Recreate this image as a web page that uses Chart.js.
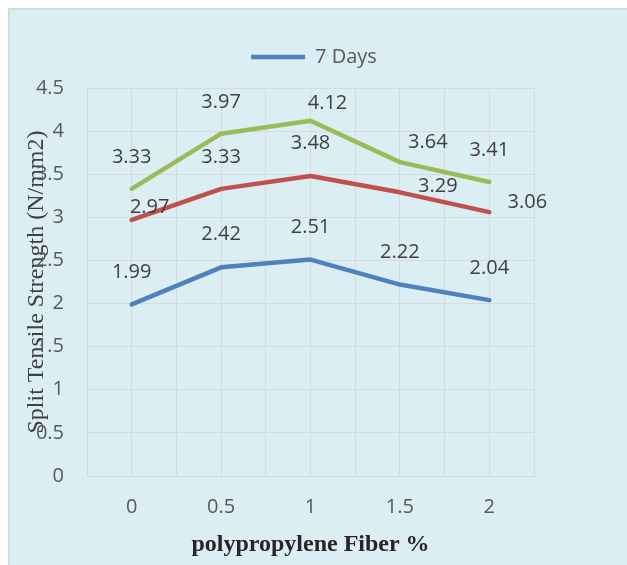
<!DOCTYPE html>
<html>
<head>
<meta charset="utf-8">
<script src="https://cdn.jsdelivr.net/npm/chart.js@4"></script>
<style>
    html, body { margin: 0; padding: 0; background: #fff; }
    #wrap { width: 627px; height: 565px; }
</style>
</head>
<body>
<div id="wrap"><canvas id="plot-01" width="627" height="565"></canvas></div>
<script>
// fiber content (%) and split tensile strength (N/mm2) per curing age
const fiber = [0, 0.5, 1, 1.5, 2];
const days7 = [1.99, 2.42, 2.51, 2.22, 2.04];
const days14 = [2.97, 3.33, 3.48, 3.29, 3.06];
const days28 = [3.33, 3.97, 4.12, 3.64, 3.41];
const seriesNames = ['7 Days', '14 Days', '28 Days'];
const yMin = 0, yMax = 4.5, yStep = 0.5;

// where each value label sits relative to its point (dx, dy)
const labelShift = [
    [[0, -32], [0, -33], [0, -32], [0, -32], [0, -32]],
    [[18, -13], [0, -32], [0, -33], [38, -6], [38, -10]],
    [[0, -32], [0, -31], [17, -17], [28, -20], [0, -32]]
];

Chart.defaults.font.family = 'Open Sans';

function points(values) {
    return fiber.map((f, i) => ({x: f, y: values[i]}));
}

// light blue panel behind everything
const panel = {
    id: 'panel',
    beforeDraw(chart) {
        const ctx = chart.ctx;
        ctx.save();
        ctx.fillStyle = '#ffffff';
        ctx.fillRect(0, 0, chart.width, chart.height);
        ctx.fillStyle = '#dbeef4';
        ctx.fillRect(9, 9, chart.width - 9, chart.height - 9);
        ctx.strokeStyle = '#d9d9d9';
        ctx.lineWidth = 2;
        ctx.strokeRect(9, 9, chart.width, chart.height);
        ctx.restore();
    }
};

// the legend sits a bit higher above the plot and centred over it
const legendLift = {
    id: 'legendLift',
    afterLayout(chart) {
        const lg = chart.legend;
        lg.top -= 11;
        lg.bottom -= 11;
        lg.left += 47;
        lg.right += 47;
    }
};

// numbers written next to every point
const valueLabels = {
    id: 'valueLabels',
    afterDatasetsDraw(chart) {
        const ctx = chart.ctx;
        ctx.save();
        ctx.font = '20px "Open Sans"';
        ctx.fillStyle = '#404040';
        ctx.textAlign = 'center';
        ctx.textBaseline = 'middle';
        chart.data.datasets.forEach((ds, d) => {
            chart.getDatasetMeta(d).data.forEach((pt, i) => {
                const [dx, dy] = labelShift[d][i];
                ctx.fillText(ds.data[i].y.toFixed(2), pt.x + dx, pt.y + dy);
            });
        });
        ctx.restore();
    }
};

const data = {
    datasets: [
        {label: seriesNames[0], data: points(days7), borderColor: '#4f81bd', backgroundColor: '#4f81bd'},
        {label: seriesNames[1], data: points(days14), borderColor: '#c0504d', backgroundColor: '#c0504d'},
        {label: seriesNames[2], data: points(days28), borderColor: '#9bbb59', backgroundColor: '#9bbb59'}
    ]
};
data.datasets.forEach(ds => {
    ds.borderWidth = 4.5;
    ds.pointRadius = 0;
    ds.tension = 0;
    ds.borderCapStyle = 'round';
    ds.borderJoinStyle = 'round';
});

const config = {
    type: 'line',
    data: data,
    options: {
        responsive: false,
        animation: false,
        layout: {
            padding: {left: 0, right: 93, top: 17, bottom: 0}
        },
        plugins: {
            legend: {
                position: 'top',
                labels: {
                    filter: item => item.datasetIndex === 0,
                    usePointStyle: true,
                    pointStyle: 'line',
                    pointStyleWidth: 54,
                    color: '#595959',
                    font: {size: 20},
                    padding: 20
                }
            },
            tooltip: {enabled: false}
        },
        scales: {
            x: {
                type: 'linear',
                min: fiber[0] - 0.25,
                max: fiber[fiber.length - 1] + 0.25,
                afterFit: s => { s.height = 89; },
                ticks: {
                    stepSize: 0.25,
                    autoSkip: false,
                    maxRotation: 0,
                    padding: 19,
                    color: '#595959',
                    font: {size: 20},
                    callback: v => fiber.includes(v) ? String(v) : ''
                },
                grid: {color: '#d9d9d9', drawTicks: false},
                border: {color: '#d9d9d9'},
                title: {
                    display: true,
                    text: 'polypropylene Fiber %',
                    color: '#262626',
                    font: {family: 'Liberation Serif', size: 24, weight: 'bold'},
                    padding: {top: 0, bottom: 6}
                }
            },
            y: {
                min: yMin,
                max: yMax,
                // fixed gutter on the left, and the plot starts 88px down
                afterFit: s => { s.width = 87; s.paddingTop = 88; },
                ticks: {
                    stepSize: yStep,
                    padding: 23,
                    color: '#595959',
                    font: {size: 20},
                    callback: v => String(v)
                },
                grid: {color: '#d9d9d9', drawTicks: false},
                border: {color: '#d9d9d9'},
                title: {
                    display: true,
                    text: 'Split Tensile Strength (N/mm2)',
                    color: '#404040',
                    font: {family: 'Liberation Serif', size: 24},
                    padding: {top: 22, bottom: 0}
                }
            }
        }
    },
    plugins: [panel, legendLift, valueLabels]
};

const myChart = new Chart(
    document.getElementById('plot-01').getContext('2d'),
    config
);
</script>
</body>
</html>
